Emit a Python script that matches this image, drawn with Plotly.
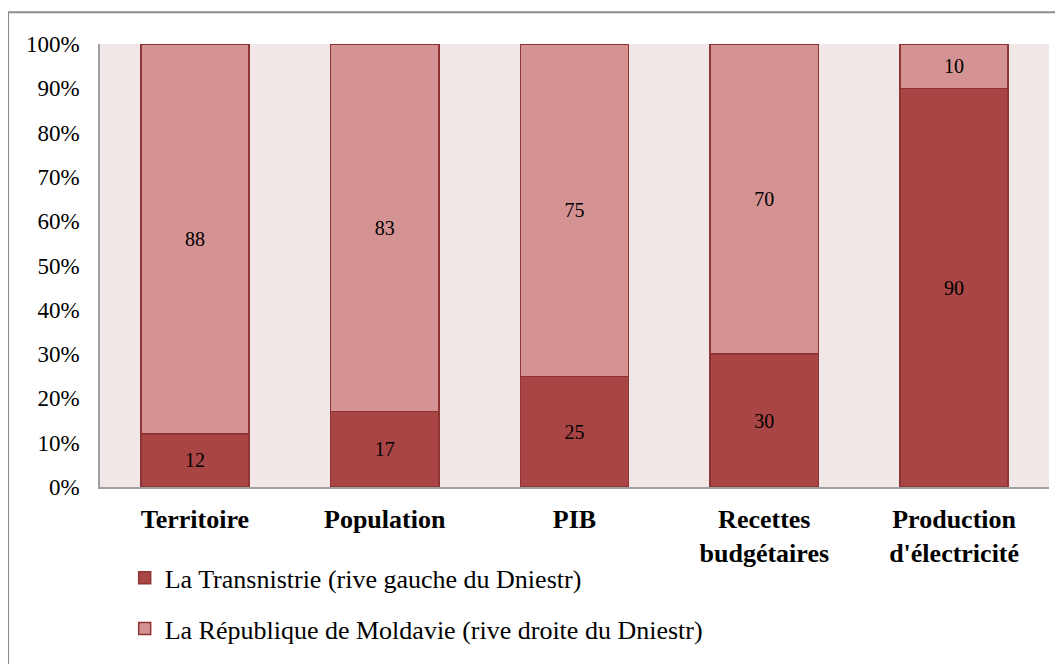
import plotly.graph_objects as go

categories = ["Territoire", "Population", "PIB", "Recettes<br>budgétaires", "Production<br>d'électricité"]
transnistrie = [12, 17, 25, 30, 90]
moldavie = [88, 83, 75, 70, 10]
series_names = ["La Transnistrie (rive gauche du Dniestr)",
                "La République de Moldavie (rive droite du Dniestr)"]
y_ticks = [0, 10, 20, 30, 40, 50, 60, 70, 80, 90, 100]
y_tick_labels = [f"{v}%" for v in y_ticks]

dark = "#A94545"
light = "#D49292"
edge = "#8E3434"
font_family = "Liberation Serif, Times New Roman, serif"

fig = go.Figure()
fig.add_trace(go.Bar(
    x=categories, y=transnistrie, name=series_names[0],
    marker=dict(color=dark, line=dict(color=edge, width=1.5)),
    text=transnistrie, textposition="inside", insidetextanchor="middle",
    textfont=dict(family=font_family, size=20, color="black"),
    legendgroup="a",
))
fig.add_trace(go.Bar(
    x=categories, y=moldavie, name=series_names[1],
    marker=dict(color=light, line=dict(color=edge, width=1.5)),
    text=moldavie, textposition="inside", insidetextanchor="middle",
    textfont=dict(family=font_family, size=20, color="black"),
    legendgroup="b",
))

fig.update_layout(
    barmode="stack",
    bargap=0.43,
    width=1055, height=656,
    margin=dict(l=92, r=14, t=36, b=175),
    plot_bgcolor="#F2E7E7",
    paper_bgcolor="white",
    font=dict(family=font_family, color="black"),
    showlegend=True,
    legend=dict(
        orientation="v", x=0.026, y=-0.152, xanchor="left", yanchor="top",
        font=dict(family=font_family, size=26, color="black"),
        traceorder="grouped", tracegroupgap=14,
        itemwidth=30, bgcolor="rgba(0,0,0,0)",
    ),
    uniformtext=dict(minsize=10, mode="show"),
)
fig.update_xaxes(
    showline=True, linecolor="#A0A0A0", linewidth=1.5,
    tickfont=dict(family=font_family, size=26, color="black", weight="bold"),
    ticks="", ticklabelstandoff=8,
)
fig.update_yaxes(
    range=[0, 100], tickvals=y_ticks, ticktext=y_tick_labels,
    showgrid=False, zeroline=False,
    showline=True, linecolor="#A0A0A0", linewidth=1.5,
    tickfont=dict(family=font_family, size=23, color="black"),
    ticks="", ticklabelstandoff=14,
)

# outer frame lines (top and left)
fig.add_shape(type="line", xref="paper", yref="paper",
              x0=-0.0969, x1=1.1, y0=1.0719, y1=1.0719,
              line=dict(color="#8C8C8C", width=2))
fig.add_shape(type="line", xref="paper", yref="paper",
              x0=-0.0969, x1=-0.0969, y0=1.0719, y1=-0.45,
              line=dict(color="#8C8C8C", width=2))

fig.write_html("out.html")
